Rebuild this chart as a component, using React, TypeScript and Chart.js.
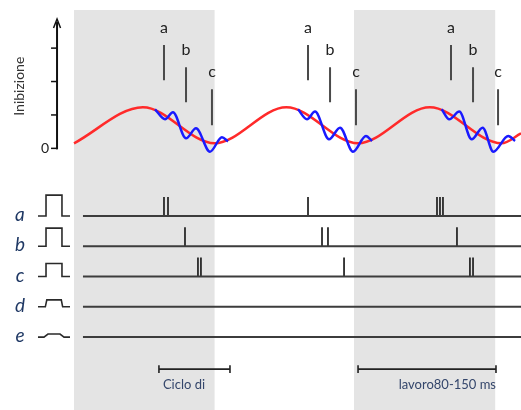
import React, { useEffect, useRef } from "react";
import { Chart, registerables } from "chart.js";
Chart.register(...registerables);

// ---- scale ranges ----
const X_MIN = -62; // time, ms
const X_MAX = 392;
const Y_MIN = -7.83; // inhibition units
const Y_MAX = 4.44;
const ROW_MIN = -2.41; // spike-train row level
const ROW_MAX = 11.14;

// ---- shaded cycles (ms) ----
const shadeStarts = [2.5, 246.5];
const shadeEnds = [125, 369.5];
const SHADE_TOP = 4.14;
const SHADE_BOTTOM = -7.83;

// ---- slow inhibition wave (red) ----
const redTimes = [2.5, 62.5, 125, 187.5, 250, 312.5, 375, 392];
const redValues = [0.15, 1.23, 0.15, 1.23, 0.15, 1.23, 0.15, 0.45];

// ---- fast oscillation (blue), one per cycle ----
const blueTimes1 = [73.1, 81.8, 88.7, 100.1, 108.8, 121.0, 131.4, 136.7];
const blueValues1 = [1.17, 0.87, 1.08, 0.3, 0.6, -0.1, 0.33, 0.21];
const blueTimes2 = [197.7, 205.5, 212.5, 224.7, 234.3, 245.6, 256.9, 262.2];
const blueValues2 = [1.17, 0.87, 1.1, 0.27, 0.62, -0.1, 0.37, 0.22];
const blueTimes3 = [322.9, 329.5, 338.2, 349.0, 358.6, 367.9, 380.9, 386.8];
const blueValues3 = [1.17, 0.87, 1.1, 0.27, 0.62, -0.1, 0.37, 0.22];

// ---- item markers a/b/c above the wave ----
const markerLetters = ["a", "b", "c"];
const markerTimesCycle1 = [80.9, 100.1, 122.7];
const markerTimesCycle2 = [206.4, 225.6, 248.2];
const markerTimesCycle3 = [331.0, 350.2, 372.0];
const markerTops = [3.09, 2.43, 1.77];
const markerBottoms = [2.04, 1.38, 0.69];
const markerLabelLevels = [3.6, 2.94, 2.28];

// ---- y axis ----
const AXIS_TIME = -12.3;
const axisTicks = [0, 1, 2, 3];
const AXIS_TOP = 3.78;
const AXIS_TITLE = "Inibizione";

// ---- spike trains ----
const rowLabels = ["a", "b", "c", "d", "e"];
const rowLevels = [4, 3, 2, 1, 0];
const pulseHeights = [0.69, 0.6, 0.43, 0.23, 0.1];
const pulseStart = -28.9;
const pulseRiseStart = [-21.9, -21.9, -21.9, -22.5, -23.7];
const pulseRiseEnd = [-21.9, -21.9, -21.9, -21.2, -20.2];
const pulseFallStart = [-8.0, -8.0, -8.0, -8.6, -9.7];
const pulseFallEnd = [-8.0, -8.0, -8.0, -7.4, -6.2];
const pulseEnd = -1.0;
const spikeTimesA = [80.9, 84.4, 206.4, 318.8, 321.4, 324.0];
const spikeTimesB = [99.2, 218.6, 223.8, 336.2];
const spikeTimesC = [110.5, 113.1, 237.8, 347.5, 350.2];
const spikeTimesD: number[] = [];
const spikeTimesE: number[] = [];
const SPIKE_HEIGHT = 0.63;
const TRAIN_START = 10.3;
const TRAIN_END = 392;

// ---- scale bars ----
const barStarts = [76.5, 250];
const barEnds = [138.4, 370.2];
const barLabels = ["Ciclo di", "lavoro80-150 ms"];
const BAR_LEVEL = -1.06;
const BAR_LABEL_LEVEL = -1.57;
const BAR_CAP = 0.13;

type P = { x: number; y: number | null };

function seriesOf(times: number[], values: number[]): P[] {
  return times.map((t, i) => ({ x: t, y: values[i] }));
}

function verticalSegments(times: number[], bottoms: number[], tops: number[]): P[] {
  const out: P[] = [];
  times.forEach((t, i) => {
    out.push({ x: t, y: bottoms[i] }, { x: t, y: tops[i] }, { x: t, y: null });
  });
  return out;
}

const spikeTrains = [spikeTimesA, spikeTimesB, spikeTimesC, spikeTimesD, spikeTimesE];

function buildSpikes(): P[] {
  const out: P[] = [];
  spikeTrains.forEach((times, r) => {
    times.forEach((t) => {
      out.push({ x: t, y: rowLevels[r] }, { x: t, y: rowLevels[r] + SPIKE_HEIGHT }, { x: t, y: null });
    });
  });
  return out;
}

function buildBaselines(): P[] {
  const out: P[] = [];
  rowLevels.forEach((lv) => {
    out.push({ x: TRAIN_START, y: lv }, { x: TRAIN_END, y: lv }, { x: TRAIN_END, y: null });
  });
  return out;
}

function buildPulses(): P[] {
  const out: P[] = [];
  rowLevels.forEach((lv, i) => {
    const h = lv + pulseHeights[i];
    out.push(
      { x: pulseStart, y: lv },
      { x: pulseRiseStart[i], y: lv },
      { x: pulseRiseEnd[i], y: h },
      { x: pulseFallStart[i], y: h },
      { x: pulseFallEnd[i], y: lv },
      { x: pulseEnd, y: lv },
      { x: pulseEnd, y: null }
    );
  });
  return out;
}

function buildBars(): P[] {
  const out: P[] = [];
  barStarts.forEach((s, i) => {
    const e = barEnds[i];
    out.push({ x: s, y: BAR_LEVEL }, { x: e, y: BAR_LEVEL }, { x: e, y: null });
    out.push({ x: s, y: BAR_LEVEL - BAR_CAP }, { x: s, y: BAR_LEVEL + BAR_CAP }, { x: s, y: null });
    out.push({ x: e, y: BAR_LEVEL - BAR_CAP }, { x: e, y: BAR_LEVEL + BAR_CAP }, { x: e, y: null });
  });
  return out;
}

const FONT = "Lato, 'Open Sans', 'DejaVu Sans', sans-serif";

const overlay = {
  id: "overlay",
  beforeDatasetsDraw(chart: any) {
    const { ctx } = chart;
    const xs = chart.scales.x;
    const ys = chart.scales.y;
    ctx.save();
    ctx.fillStyle = "#e4e4e4";
    shadeStarts.forEach((s, i) => {
      const x0 = xs.getPixelForValue(s);
      const x1 = xs.getPixelForValue(shadeEnds[i]);
      const y0 = ys.getPixelForValue(SHADE_TOP);
      const y1 = ys.getPixelForValue(SHADE_BOTTOM);
      ctx.fillRect(x0, y0, x1 - x0, y1 - y0);
    });
    ctx.restore();
  },
  afterDatasetsDraw(chart: any) {
    const { ctx } = chart;
    const xs = chart.scales.x;
    const ys = chart.scales.y;
    const rs = chart.scales.row;
    ctx.save();
    // y axis
    const ax = xs.getPixelForValue(AXIS_TIME);
    const yTop = ys.getPixelForValue(AXIS_TOP);
    const y0 = ys.getPixelForValue(0);
    ctx.strokeStyle = "#111";
    ctx.lineWidth = 2;
    ctx.beginPath();
    ctx.moveTo(ax, y0 + 1);
    ctx.lineTo(ax, yTop);
    ctx.stroke();
    ctx.lineWidth = 1.5;
    ctx.beginPath();
    ctx.moveTo(ax - 3.5, yTop + 6);
    ctx.lineTo(ax, yTop - 3);
    ctx.lineTo(ax + 3.5, yTop + 6);
    ctx.stroke();
    axisTicks.forEach((v) => {
      const py = ys.getPixelForValue(v);
      ctx.beginPath();
      ctx.moveTo(ax - 6, py);
      ctx.lineTo(ax, py);
      ctx.stroke();
    });
    ctx.fillStyle = "#222";
    ctx.font = `14px ${FONT}`;
    ctx.textAlign = "right";
    ctx.textBaseline = "middle";
    ctx.fillText("0", ax - 8, y0);
    // axis title
    ctx.save();
    ctx.translate(xs.getPixelForValue(-44.6), ys.getPixelForValue(1.86));
    ctx.rotate(-Math.PI / 2);
    ctx.textAlign = "center";
    ctx.fillStyle = "#333";
    ctx.font = `14px ${FONT}`;
    ctx.fillText(AXIS_TITLE, 0, 0);
    ctx.restore();
    // marker letters
    ctx.fillStyle = "#222";
    ctx.font = `16px ${FONT}`;
    ctx.textAlign = "center";
    [markerTimesCycle1, markerTimesCycle2, markerTimesCycle3].forEach((times) => {
      times.forEach((t, i) => {
        ctx.fillText(markerLetters[i], xs.getPixelForValue(t), ys.getPixelForValue(markerLabelLevels[i]));
      });
    });
    // row labels
    ctx.fillStyle = "#1f3864";
    ctx.font = `italic 19px ${FONT}`;
    rowLevels.forEach((lv, i) => {
      ctx.fillText(rowLabels[i], xs.getPixelForValue(-44.6), rs.getPixelForValue(lv) - 1);
    });
    // bar labels
    ctx.fillStyle = "#34466b";
    ctx.font = `13px ${FONT}`;
    ctx.textAlign = "left";
    ctx.fillText(barLabels[0], xs.getPixelForValue(barStarts[0]) + 4, rs.getPixelForValue(BAR_LABEL_LEVEL));
    ctx.textAlign = "right";
    ctx.fillText(barLabels[1], xs.getPixelForValue(barEnds[1]), rs.getPixelForValue(BAR_LABEL_LEVEL));
    ctx.restore();
  },
};

export default function App() {
  const ref = useRef<HTMLCanvasElement | null>(null);
  useEffect(() => {
    if (!ref.current) return;
    const lineBase = { pointRadius: 0, pointHoverRadius: 0, fill: false, spanGaps: false, tension: 0 };
    const chart = new Chart(ref.current, {
      type: "line",
      data: {
        datasets: [
          { ...lineBase, label: "blue1", data: seriesOf(blueTimes1, blueValues1), borderColor: "#1a1aff", borderWidth: 2.5, cubicInterpolationMode: "monotone", order: 0, yAxisID: "y" },
          { ...lineBase, label: "blue2", data: seriesOf(blueTimes2, blueValues2), borderColor: "#1a1aff", borderWidth: 2.5, cubicInterpolationMode: "monotone", order: 0, yAxisID: "y" },
          { ...lineBase, label: "blue3", data: seriesOf(blueTimes3, blueValues3), borderColor: "#1a1aff", borderWidth: 2.5, cubicInterpolationMode: "monotone", order: 0, yAxisID: "y" },
          { ...lineBase, label: "red", data: seriesOf(redTimes, redValues), borderColor: "#ff2a2a", borderWidth: 2.5, cubicInterpolationMode: "monotone", order: 1, yAxisID: "y" },
          { ...lineBase, label: "markers", data: [
              ...verticalSegments(markerTimesCycle1, markerBottoms, markerTops),
              ...verticalSegments(markerTimesCycle2, markerBottoms, markerTops),
              ...verticalSegments(markerTimesCycle3, markerBottoms, markerTops),
            ], borderColor: "#4a4a4a", borderWidth: 2, order: 2, yAxisID: "y" },
          { ...lineBase, label: "baselines", data: buildBaselines(), borderColor: "#3c3c3c", borderWidth: 2, order: 3, yAxisID: "row" },
          { ...lineBase, label: "spikes", data: buildSpikes(), borderColor: "#2a2a2a", borderWidth: 1.8, order: 3, yAxisID: "row" },
          { ...lineBase, label: "pulses", data: buildPulses(), borderColor: "#2a2a2a", borderWidth: 1.6, order: 3, yAxisID: "row" },
          { ...lineBase, label: "bars", data: buildBars(), borderColor: "#222", borderWidth: 1.6, order: 3, yAxisID: "row" },
        ],
      },
      options: {
        animation: false,
        responsive: false,
        maintainAspectRatio: false,
        layout: { padding: 0 },
        plugins: { legend: { display: false }, tooltip: { enabled: false } },
        events: [],
        scales: {
          x: { type: "linear", min: X_MIN, max: X_MAX, display: false },
          y: { type: "linear", min: Y_MIN, max: Y_MAX, display: false },
          row: { type: "linear", axis: "y", min: ROW_MIN, max: ROW_MAX, display: false },
        },
      } as any,
      plugins: [overlay],
    } as any);
    return () => chart.destroy();
  }, []);
  return (
    <div style={{ position: "fixed", left: 0, top: 0, width: 521, height: 410, background: "#fff" }}>
      <canvas ref={ref} width={521} height={410} style={{ width: 521, height: 410 }} />
    </div>
  );
}
